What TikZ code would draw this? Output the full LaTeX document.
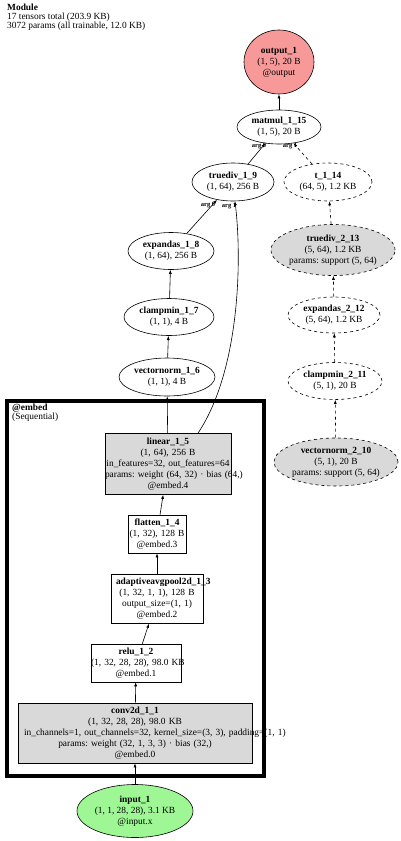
\documentclass[tikz,border=0pt]{standalone}
\usepackage{fontspec}
\setmainfont{Liberation Serif}
\usetikzlibrary{shapes.geometric,arrows.meta}
\begin{document}
\frenchspacing
\begin{tikzpicture}[x=1pt,y=-1pt]
  \definecolor{outfill}{rgb}{0.97,0.60,0.60}
  \definecolor{infill}{rgb}{0.62,0.97,0.58}
  \definecolor{modfill}{rgb}{0.85,0.85,0.85}
  \tikzstyle{opnode}=[draw, ellipse, inner sep=0pt, align=center, font=\fontsize{9.4}{11}\selectfont, line width=0.6pt]
  \tikzstyle{parnode}=[opnode, dashed, fill=modfill]
  \tikzstyle{modbox}=[draw, rectangle, inner sep=0pt, align=center, font=\fontsize{9.4}{11}\selectfont, line width=0.6pt]
  \tikzstyle{arr}=[-{Latex[length=4pt,width=3pt]}, line width=0.6pt]
  \tikzstyle{lab}=[font=\fontsize{6.5}{7}\selectfont\bfseries, inner sep=0pt]

  \useasboundingbox (0,0) rectangle (400,841);

  % Kopf mit Gesamtzahlen
  \node[anchor=north west, align=left, inner sep=0pt, font=\fontsize{9.4}{9}\selectfont] (hdr) at (7,4)
    {\textbf{Module}\\17 tensors total (203.9 KB)\\3072 params (all trainable, 12.0 KB)};

  % Rahmen des Submoduls @embed, x von 7 bis 264
  \node[draw, line width=3.2pt, minimum width=257pt, minimum height=375pt, inner sep=0pt] (embed) at (135.5,588.5) {};
  \node[anchor=north west, align=left, inner sep=0pt, font=\fontsize{9.4}{8.5}\selectfont] (embedlab) at (12,404)
    {\textbf{@embed}\\(Sequential)};

  % Linke Spalte, von unten nach oben; lange Zeilen stehen rechts ueber
  \node[opnode, fill=infill, minimum width=116pt, minimum height=53pt] (inp1) at (135,811) {\textbf{input\_1}\\(1, 1, 28, 28), 3.1 KB\\@input.x};
  \node[modbox, fill=modfill, text width=234pt, minimum height=60pt] (conv11) at (135,733)
    {\textbf{conv2d\_1\_1}\\(1, 32, 28, 28), 98.0 KB\\\mbox{\hspace{6pt}in\_channels=1, out\_channels=32, kernel\_size=(3, 3), padding=(1, 1)}\\\mbox{params: weight (32, 1, 3, 3) · bias (32,)}\\@embed.0};
  \node[modbox, fill=white, text width=90pt, minimum height=38pt] (relu12) at (136,663) {\textbf{relu\_1\_2}\\\mbox{(1, 32, 28, 28), 98.0 KB}\\@embed.1};
  \node[modbox, fill=white, text width=92pt, minimum height=49pt] (pool13) at (157,599)
    {\mbox{\hspace{5pt}\textbf{adaptiveavgpool2d\_1\_3}}\\(1, 32, 1, 1), 128 B\\output\_size=(1, 1)\\@embed.2};
  \node[modbox, fill=white, text width=58pt, minimum height=38pt] (flat14) at (157,534) {\textbf{flatten\_1\_4}\\(1, 32), 128 B\\@embed.3};
  \node[modbox, fill=modfill, text width=126pt, minimum height=61pt] (lin15) at (168,464)
    {\textbf{linear\_1\_5}\\(1, 64), 256 B\\\mbox{in\_features=32, out\_features=64}\\\mbox{params: weight (64, 32) · bias (64,)}\\@embed.4};
  \node[opnode, minimum width=96pt, minimum height=38pt] (vn16) at (167,377) {\textbf{vectornorm\_1\_6}\\(1, 1), 4 B};
  \node[opnode, minimum width=90pt, minimum height=37pt] (cm17) at (169,317) {\textbf{clampmin\_1\_7}\\(1, 1), 4 B};
  \node[opnode, minimum width=86pt, minimum height=37pt] (ex18) at (171,251) {\textbf{expandas\_1\_8}\\(1, 64), 256 B};
  \node[opnode, minimum width=82pt, minimum height=38pt] (trd19) at (233,182) {\textbf{truediv\_1\_9}\\(1, 64), 256 B};

  % Rechte Spalte, gestrichelt
  \node[parnode, minimum width=122pt, minimum height=48pt] (vn210) at (336,462) {\textbf{vectornorm\_2\_10}\\(5, 1), 20 B\\params: support (5, 64)};
  \node[opnode, dashed, minimum width=94pt, minimum height=37pt] (cm211) at (335,381) {\textbf{clampmin\_2\_11}\\(5, 1), 20 B};
  \node[opnode, dashed, minimum width=92pt, minimum height=36pt] (ex212) at (334,315) {\textbf{expandas\_2\_12}\\(5, 64), 1.2 KB};
  \node[parnode, minimum width=124pt, minimum height=51pt] (trd213) at (333,250) {\textbf{truediv\_2\_13}\\(5, 64), 1.2 KB\\params: support (5, 64)};
  \node[opnode, dashed, minimum width=88pt, minimum height=38pt] (t114) at (328,182) {\textbf{t\_1\_14}\\(64, 5), 1.2 KB};

  % Oben
  \node[opnode, minimum width=84pt, minimum height=34pt] (mm115) at (279,127) {\textbf{matmul\_1\_15}\\(1, 5), 20 B};
  \node[opnode, fill=outfill, minimum width=70pt, minimum height=64pt] (out1) at (279,62) {\textbf{output\_1}\\(1, 5), 20 B\\@output};

  \draw[arr] (inp1) -- (conv11);
  \draw[arr] (conv11) -- (relu12);
  \draw[arr] (relu12) -- (pool13);
  \draw[arr] (pool13) -- (flat14);
  \draw[arr] (flat14) -- (lin15);
  \draw[arr] (lin15) -- (vn16);
  \draw[arr] ([xshift=30pt]lin15.north) .. controls (240,370) and (242,260) .. ([xshift=2pt]trd19.south);
  \draw[arr] (vn16) -- (cm17);
  \draw[arr] (cm17) -- (ex18);
  \draw[arr] (ex18) -- (trd19);
  \draw[arr] (trd19) -- (mm115);
  \draw[arr] (mm115) -- (out1);

  \draw[arr, dashed] (vn210) -- (cm211);
  \draw[arr, dashed] (cm211) -- (ex212);
  \draw[arr, dashed] (ex212) -- (trd213);
  \draw[arr, dashed] (trd213) -- (t114);
  \draw[arr, dashed] (t114) -- (mm115);

  % Argumentnummern an den Pfeilspitzen
  \node[lab] (a0trd) at (208,205) {arg 0};
  \node[lab] (a1trd) at (229,206) {arg 1};
  \node[lab] (a0mm) at (259,146) {arg 0};
  \node[lab] (a1mm) at (290,146) {arg 1};
\end{tikzpicture}
\end{document}
